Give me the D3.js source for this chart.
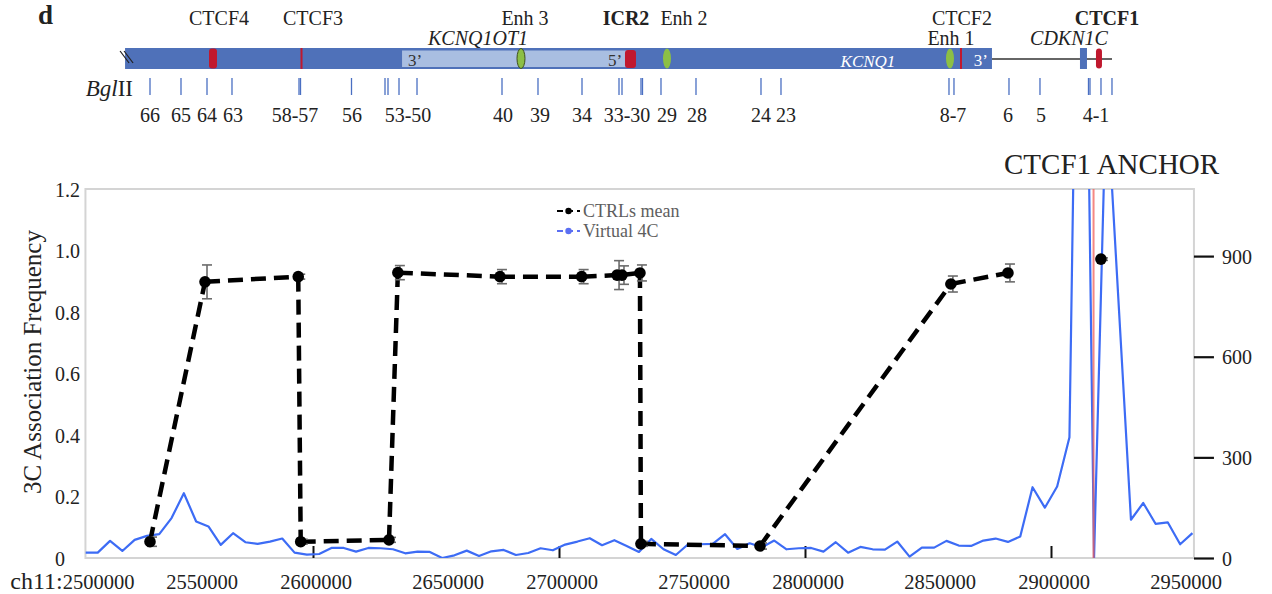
<!DOCTYPE html>
<html>
<head>
<meta charset="utf-8">
<script src="https://cdn.jsdelivr.net/npm/d3@7"></script>
<style>
  body { margin: 0; background: #fff; }
  svg { display: block; }
  text { font-family: "Liberation Serif", "Times New Roman", serif; }
</style>
</head>
<body>
<svg id="fig" width="1272" height="594"></svg>
<script>
// ---------- 3C data (CTRLs mean, left axis) ----------
const ctrlPos  = [2533740, 2556100, 2594000, 2595000, 2630900, 2634500, 2676000, 2709200,
                  2723600, 2725600, 2732900, 2733300, 2781700, 2859300, 2882500];
const ctrlMean = [0.053, 0.898, 0.915, 0.053, 0.059, 0.928, 0.915, 0.915,
                  0.920, 0.920, 0.927, 0.046, 0.039, 0.891, 0.927];
const ctrlErr  = [0.015, 0.055, 0.008, 0.008, 0.008, 0.023, 0.023, 0.023,
                  0.047, 0.030, 0.026, 0.008, 0.010, 0.026, 0.029];
const anchorPos = 2920300, anchorMean = 0.972, anchorErr = 0.004;

// ---------- Virtual 4C (5 kb bins, right axis) ----------
const v4cPos = [2507500, 2512500, 2517500, 2522500, 2527500, 2532500, 2537500, 2542500, 2547500, 2552500,
                2557500, 2562500, 2567500, 2572500, 2577500, 2582500, 2587500, 2592500, 2597500, 2602500,
                2607500, 2612500, 2617500, 2622500, 2627500, 2632500, 2637500, 2642500, 2647500, 2652500,
                2657500, 2662500, 2667500, 2672500, 2677500, 2682500, 2687500, 2692500, 2697500, 2702500,
                2707500, 2712500, 2717500, 2722500, 2727500, 2732500, 2737500, 2742500, 2747500, 2752500,
                2757500, 2762500, 2767500, 2772500, 2777500, 2782500, 2787500, 2792500, 2797500, 2802500,
                2807500, 2812500, 2817500, 2822500, 2827500, 2832500, 2837500, 2842500, 2847500, 2852500,
                2857500, 2862500, 2867500, 2872500, 2877500, 2882500, 2887500, 2892500, 2897500, 2902500,
                2907500, 2912500, 2917500, 2922500, 2932500, 2937500, 2942500, 2947500, 2952500, 2957500];
const v4cVal = [16, 16, 51, 21, 54, 66, 71, 119, 193, 109,
                94, 39, 74, 47, 42, 49, 58, 16, 10, 12,
                30, 30, 19, 30, 29, 26, 14, 19, 18, 0,
                8, 22, 6, 20, 24, 9, 15, 29, 23, 40,
                49, 59, 38, 53, 36, 18, 57, 26, 9, 41,
                41, 42, 71, 27, 44, 32, 52, 26, 29, 30,
                19, 47, 16, 33, 26, 25, 49, 4, 31, 31,
                51, 37, 36, 52, 58, 48, 64, 211, 150, 213,
                360, 2800, 0, 1400, 114, 164, 102, 106, 41, 74];
const viewpointPos = 2917500;

// ---------- axes ----------
const leftTicks  = [0, 0.2, 0.4, 0.6, 0.8, 1.0, 1.2];
const rightTicks = [0, 300, 600, 900];
const xTickVals  = [2600000, 2700000, 2800000, 2900000];
const xLabelVals = [2550000, 2600000, 2650000, 2700000, 2750000, 2800000, 2850000, 2900000, 2950000];
const xFirstLabel = 2500000;

// ---------- locus map ----------
const kcnq1Span   = [2523600, 2876000];
const ot1Span     = [2636200, 2728900];
const intergenic  = [2876000, 2924800];
const cdkn1cPos   = 2913200;
const ctcfPos     = [2559350, 2595330, 2863410, 2919500];
const ctcfKind    = ["strong", "weak", "weak", "strong"];
const enhPos      = [2684550, 2743900, 2858940];
const icr2Pos     = 2729060;
const bglSites    = [2533740, 2546340, 2556910, 2567070, 2594310, 2594920, 2615650, 2629270, 2630490, 2634960,
                     2642280, 2676830, 2691460, 2709350, 2724390, 2725610, 2733330, 2733940, 2741460, 2755690,
                     2782110, 2790240, 2858530, 2860560, 2882920, 2895520, 2915240, 2915850, 2920320, 2924790];
const fragText    = ["66", "65", "64", "63", "58-57", "56", "53-50", "40", "39", "34", "33-30",
                     "29", "28", "24", "23", "8-7", "6", "5", "4-1"];
const fragPos     = [2533740, 2546340, 2556910, 2567480, 2592680, 2615850, 2638620, 2677230, 2692270, 2709350,
                     2727640, 2743900, 2756100, 2782110, 2792270, 2860160, 2882520, 2895930, 2918290];
const siteText    = ["CTCF4", "CTCF3", "Enh 3", "ICR2", "Enh 2", "CTCF2", "Enh 1", "CTCF1"];
const sitePos     = [2561790, 2600000, 2686180, 2727240, 2750820, 2863820, 2859350, 2922760];
const siteRow     = [0, 0, 0, 0, 0, 0, 1, 0];
const siteBold    = [false, false, false, true, false, false, false, true];

const svg = d3.select("#fig");

const x  = d3.scaleLinear().domain([2500000, 2950000]).range([67, 1174]);
const yL = d3.scaleLinear().domain([0, 1.2]).range([558, 189]);
const yR = d3.scaleLinear().domain([0, 1100]).range([558, 189]);

const plotL = x(v4cPos[0]), plotR = x(v4cPos[v4cPos.length - 1]) + 1.5;
const plotT = yL(1.2), plotB = yL(0);

// ================= locus map =================
const map = svg.append("g");
const blue = "#4f71b9", red = "#c0182e", green = "#8cbf45";

map.append("text").attr("x", 38).attr("y", 24).attr("font-size", 27)
   .attr("font-weight", "bold").attr("fill", "#222").text("d");

map.append("line").attr("x1", x(intergenic[0])).attr("x2", x(intergenic[1]))
   .attr("y1", 59).attr("y2", 59).attr("stroke", "#333").attr("stroke-width", 1.3);

map.append("rect").attr("x", x(kcnq1Span[0])).attr("y", 48)
   .attr("width", x(kcnq1Span[1]) - x(kcnq1Span[0])).attr("height", 21).attr("fill", blue);
map.append("rect").attr("x", x(ot1Span[0])).attr("y", 50.5)
   .attr("width", x(ot1Span[1]) - x(ot1Span[0])).attr("height", 16.5).attr("fill", "#a9bee1");

// break marks at the truncated end of the locus
[0, 4].forEach(o => map.append("line")
   .attr("x1", x(kcnq1Span[0]) - 5 + o).attr("y1", 51)
   .attr("x2", x(kcnq1Span[0]) + 4 + o).attr("y2", 63)
   .attr("stroke", "#222").attr("stroke-width", 1.2));

map.append("rect").attr("x", x(cdkn1cPos) - 3.5).attr("y", 48).attr("width", 7).attr("height", 21).attr("fill", blue);

ctcfPos.forEach((p, i) => {
  if (ctcfKind[i] === "strong") {
    const w = i === 0 ? 8 : 6;
    map.append("rect").attr("x", x(p) - w / 2).attr("y", 48.5).attr("width", w).attr("height", 20)
       .attr("rx", 3).attr("fill", red);
  } else {
    map.append("line").attr("x1", x(p)).attr("x2", x(p)).attr("y1", 48).attr("y2", 69)
       .attr("stroke", red).attr("stroke-width", 2);
  }
});

enhPos.forEach((p, i) => {
  map.append("ellipse").attr("cx", x(p)).attr("cy", 58.5).attr("rx", 4).attr("ry", 10)
     .attr("fill", green).attr("stroke", i === 0 ? "#3e4f1c" : "none").attr("stroke-width", 1);
});

map.append("rect").attr("x", x(icr2Pos) - 5.5).attr("y", 50).attr("width", 11).attr("height", 18)
   .attr("rx", 3).attr("fill", red);

map.append("text").attr("x", x(ot1Span[0]) + 6).attr("y", 66).attr("font-size", 17).attr("fill", "#333").text("3’");
map.append("text").attr("x", x(ot1Span[1]) - 8).attr("y", 66).attr("font-size", 17).attr("fill", "#333")
   .attr("text-anchor", "end").text("5’");
map.append("text").attr("x", x(kcnq1Span[1]) - 4).attr("y", 66).attr("font-size", 17).attr("fill", "#fff")
   .attr("text-anchor", "end").text("3’");
map.append("text").attr("x", x(2825600)).attr("y", 66.5).attr("font-size", 17).attr("fill", "#fff")
   .attr("font-style", "italic").attr("text-anchor", "middle").text("KCNQ1");
map.append("text").attr("x", x(2667070)).attr("y", 45).attr("font-size", 20).attr("fill", "#222")
   .attr("font-style", "italic").attr("text-anchor", "middle").text("KCNQ1OT1");
map.append("text").attr("x", x(2907310)).attr("y", 45).attr("font-size", 20).attr("fill", "#222")
   .attr("font-style", "italic").attr("text-anchor", "middle").text("CDKN1C");

siteText.forEach((t, i) => {
  map.append("text").attr("x", x(sitePos[i])).attr("y", siteRow[i] ? 45 : 25)
     .attr("font-size", 20).attr("fill", "#222").attr("text-anchor", "middle")
     .attr("font-weight", siteBold[i] ? "bold" : "normal").text(t);
});

// BglII sites
const bgl = map.append("text").attr("x", 133).attr("y", 96).attr("font-size", 23)
   .attr("fill", "#222").attr("text-anchor", "end");
bgl.append("tspan").attr("font-style", "italic").text("Bgl");
bgl.append("tspan").text("II");

map.selectAll("line.bgl").data(bglSites).join("line").attr("class", "bgl")
   .attr("x1", d => x(d)).attr("x2", d => x(d)).attr("y1", 78).attr("y2", 95)
   .attr("stroke", "#4a6fc2").attr("stroke-width", 1.3);

map.selectAll("text.frag").data(fragText).join("text").attr("class", "frag")
   .attr("x", (d, i) => x(fragPos[i])).attr("y", 121.5).attr("font-size", 20)
   .attr("fill", "#222").attr("text-anchor", "middle").text(d => d);

// ================= 3C / virtual 4C plot =================
const plot = svg.append("g");

svg.append("defs").append("clipPath").attr("id", "plotclip")
   .append("rect").attr("x", plotL).attr("y", plotT).attr("width", plotR - plotL).attr("height", plotB - plotT);

plot.append("rect").attr("x", plotL).attr("y", plotT).attr("width", plotR - plotL).attr("height", plotB - plotT)
   .attr("fill", "none").attr("stroke", "#d4d4d4").attr("stroke-width", 2);

// left axis (labels only)
const axL = plot.append("g").attr("transform", `translate(${plotL},0)`)
   .call(d3.axisLeft(yL).tickValues(leftTicks).tickSize(0)
         .tickFormat(d => d === 0 ? "0" : d3.format(".1f")(d)));
axL.select(".domain").remove();
axL.selectAll("text").attr("font-family", null).attr("font-size", 20).attr("fill", "#222")
   .attr("text-anchor", "start").attr("x", 55 - plotL).attr("dy", "0.35em");

// right axis
const axR = plot.append("g").attr("transform", `translate(${plotR},0)`)
   .call(d3.axisRight(yR).tickValues(rightTicks).tickSize(20).tickPadding(8));
axR.select(".domain").remove();
axR.selectAll("line").attr("stroke", "#111").attr("stroke-width", 2.2);
axR.selectAll("text").attr("font-family", null).attr("font-size", 20).attr("fill", "#222").attr("dy", "0.35em");

// bottom axis: inner ticks
const axB = plot.append("g").attr("transform", `translate(0,${plotB})`)
   .call(d3.axisBottom(x).tickValues(xTickVals).tickSize(-12).tickFormat(""));
axB.select(".domain").remove();
axB.selectAll("line").attr("stroke", "#111").attr("stroke-width", 2);

// bottom labels
plot.selectAll("text.xl").data(xLabelVals).join("text").attr("class", "xl")
   .attr("x", d => x(d) + (d % 100000 ? 12 : 3)).attr("y", 589)
   .attr("font-size", 20.5).attr("fill", "#222").attr("text-anchor", "middle").text(d => d);
const first = plot.append("text").attr("x", plotL + 49).attr("y", 589)
   .attr("fill", "#222").attr("text-anchor", "end");
first.append("tspan").attr("font-size", 24).text("ch11:");
first.append("tspan").attr("font-size", 20.5).text(xFirstLabel);

// y title
plot.append("text").attr("transform", `translate(41,362) rotate(-90)`)
   .attr("font-size", 25).attr("fill", "#222").attr("text-anchor", "middle").text("3C Association Frequency");

// anchor title
plot.append("text").attr("x", 1004).attr("y", 174).attr("font-size", 29).attr("fill", "#222").text("CTCF1 ANCHOR");

// virtual 4C line
plot.append("path").attr("clip-path", "url(#plotclip)")
   .datum(v4cPos.map((p, i) => [p, v4cVal[i]]))
   .attr("d", d3.line().x(d => x(d[0])).y(d => yR(d[1])))
   .attr("fill", "none").attr("stroke", "#3d6cf5").attr("stroke-width", 2.2).attr("stroke-linejoin", "round");

// viewpoint marker
plot.append("line").attr("x1", x(viewpointPos) - 0.5).attr("x2", x(viewpointPos) - 0.5)
   .attr("y1", plotT).attr("y2", plotB).attr("stroke", "#f2605a").attr("stroke-opacity", 0.75).attr("stroke-width", 2);

// CTRLs mean dashed profile, one dashed stroke per segment
const ctrlPts = ctrlPos.map((p, i) => [x(p), yL(ctrlMean[i])]);
plot.append("g").selectAll("line").data(d3.pairs(ctrlPts)).join("line")
   .attr("x1", d => d[0][0]).attr("y1", d => d[0][1])
   .attr("x2", d => d[1][0]).attr("y2", d => d[1][1])
   .attr("stroke", "#000").attr("stroke-width", 4.5)
   .attr("stroke-linecap", "butt").attr("stroke-dasharray", "15 8");

const allPos = ctrlPos.concat([anchorPos]);
const allMean = ctrlMean.concat([anchorMean]);
const allErr = ctrlErr.concat([anchorErr]);

const eb = plot.append("g").attr("stroke", "#6b6b6b").attr("stroke-width", 1.6);
allPos.forEach((p, i) => {
  const cx = x(p) + 2, y0 = yL(allMean[i] - allErr[i]), y1 = yL(allMean[i] + allErr[i]);
  eb.append("line").attr("x1", cx).attr("x2", cx).attr("y1", y0).attr("y2", y1);
  eb.append("line").attr("x1", cx - 5).attr("x2", cx + 5).attr("y1", y0).attr("y2", y0);
  eb.append("line").attr("x1", cx - 5).attr("x2", cx + 5).attr("y1", y1).attr("y2", y1);
});

plot.selectAll("circle.pt").data(allPos).join("circle").attr("class", "pt")
   .attr("cx", d => x(d)).attr("cy", (d, i) => yL(allMean[i])).attr("r", 5.8).attr("fill", "#000");

// legend
const leg = plot.append("g");
[["CTRLs mean", "#000", 211], ["Virtual 4C", "#5b6ff2", 231]].forEach(([t, c, ly]) => {
  leg.append("line").attr("x1", 557).attr("x2", 580).attr("y1", ly).attr("y2", ly)
     .attr("stroke", c).attr("stroke-width", 2).attr("stroke-dasharray", "6 4");
  leg.append("circle").attr("cx", 568.5).attr("cy", ly).attr("r", 3.2).attr("fill", c);
  leg.append("text").attr("x", 583).attr("y", ly + 6).attr("font-size", 18).attr("fill", "#5e5e5e").text(t);
});
</script>
</body>
</html>
